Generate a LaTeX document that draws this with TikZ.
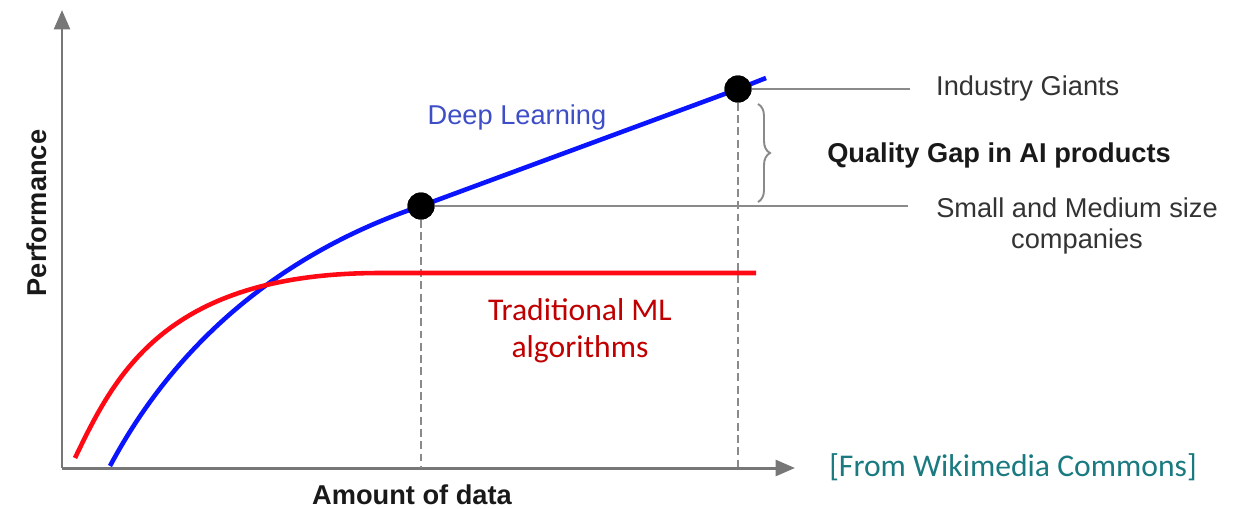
\documentclass[tikz,border=0pt]{standalone}
\usepackage{fontspec}
\setmainfont{Liberation Sans}
\newfontfamily\calibrifont{Carlito}
\usetikzlibrary{arrows.meta,decorations.pathreplacing}

\definecolor{axisgray}{HTML}{777777}
\definecolor{guidegray}{HTML}{8A8A8A}
\definecolor{dlblue}{HTML}{0A14FF}
\definecolor{mlred}{HTML}{FF0A14}
\definecolor{dltext}{HTML}{3E4EC6}
\definecolor{mltext}{HTML}{C00000}
\definecolor{srcteal}{HTML}{1A7A80}

\tikzset{
  axisline/.style={axisgray, line width=1.7pt, -{Triangle[length=11pt,width=9pt]}},
  curveline/.style={line width=2.6pt},
  guideline/.style={guidegray, line width=1.1pt},
  dropline/.style={guidegray, line width=1pt, dash pattern=on 4.5pt off 2.5pt},
  dotnode/.style={circle, fill=black, inner sep=0pt, minimum size=0.54cm},
  plaintext/.style={font=\fontsize{15.5}{17.5}\selectfont, text=black!80},
  boldtext/.style={font=\fontsize{15.5}{17.5}\selectfont\bfseries, text=black!90},
  bigtext/.style={font=\calibrifont\fontsize{18}{21}\selectfont}
}

\begin{document}
\begin{tikzpicture}[x=0.02cm, y=-0.02cm]
  \useasboundingbox (0,0) rectangle (1243,508);

  % axes
  \coordinate (origin) at (62,468);
  \coordinate (ytop) at (62,10);
  \coordinate (xend) at (795,468);
  \draw[axisline] (origin) -- (ytop);
  \draw[axisline] (origin) -- (xend);

  % points on the deep learning curve
  \node[dotnode] (giant) at (738,89) {};
  \node[dotnode] (smb) at (421,206) {};
  \coordinate (giantx) at (738,468);
  \coordinate (smbx) at (421,468);
  \coordinate (giantend) at (910,89);
  \coordinate (smbend) at (908,206);

  %drop lines
  \draw[dropline] (giant) -- (giantx);
  \draw[dropline] (smb) -- (smbx);

  %deep learning
  \draw[curveline, dlblue] (110,466) .. controls (180,335) and (290,250) .. (smb.center)
    -- (giant.center) -- (766,78);
  %traditional ML
  \draw[curveline, mlred] (75,458) .. controls (115,375) and (165,273) .. (380,273)
    -- (756,273);

  % dots again on top
  \node[dotnode] at (giant) {};
  \node[dotnode] at (smb) {};

  %guide lines to labels
  \draw[guideline] (giant) -- (giantend);
  \draw[guideline] (smb) -- (smbend);

  %brace
  \draw[guideline, decorate, decoration={brace, amplitude=0.24cm}] (758,104) -- (758,202);

  % labels
  \node[plaintext, anchor=west] (giantlabel) at (930,88) {Industry Giants};
  \node[plaintext, align=center] (smblabel) at (1077,226) {Small and Medium size\\companies};
  \node[boldtext] (gaplabel) at (999,155) {Quality Gap in AI products};
  \node[plaintext, text=dltext] (dllabel) at (517,117) {Deep Learning};
  \node[bigtext, text=mltext, align=center] (mllabel) at (580,331) {Traditional ML\\algorithms};
  \node[boldtext, rotate=90] (ylabel) at (37,213) {Performance};
  \node[boldtext] (xlabel) at (412,495) {Amount of data};
  \node[bigtext, text=srcteal] (source) at (1013,467) {[From Wikimedia Commons]};

\end{tikzpicture}
\end{document}
